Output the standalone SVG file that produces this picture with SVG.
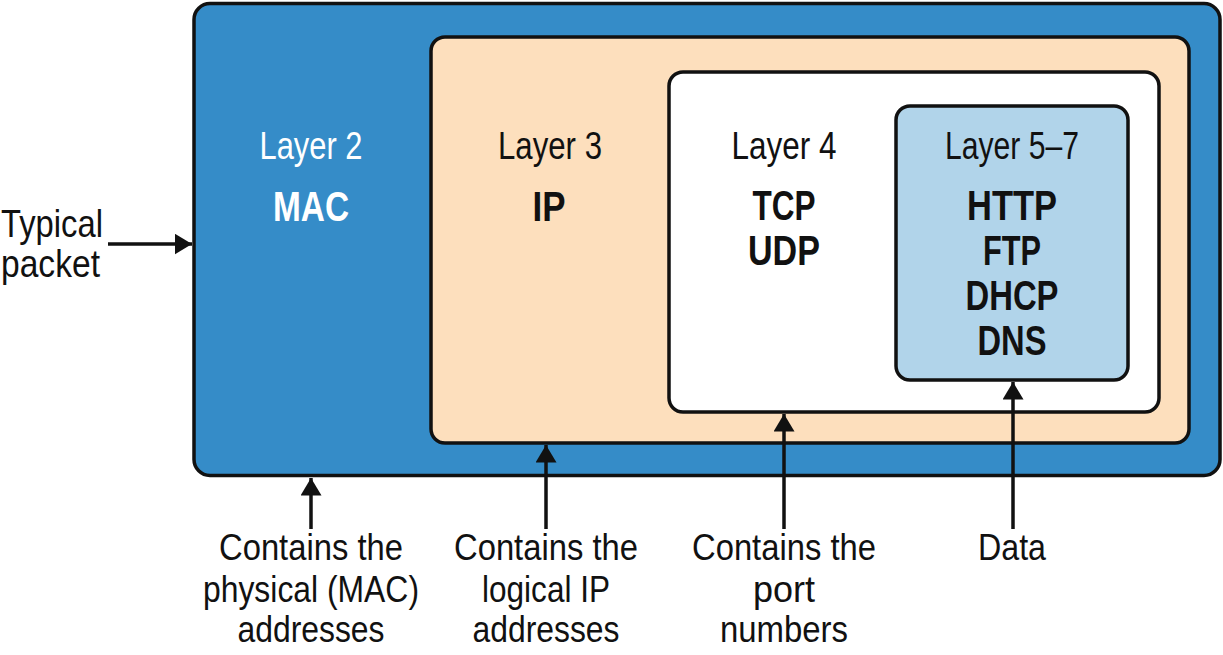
<svg xmlns="http://www.w3.org/2000/svg" width="1223" height="655" viewBox="0 0 1223 655">
<style>
.box{stroke:#111;stroke-width:3.5}
text{font-family:"Liberation Sans","Arial",sans-serif;text-anchor:middle;fill:#111}
.lay{font-size:38px}
.proto{font-size:42px;font-weight:bold}
.lbl{font-size:36px}
.w{fill:#fff}
.conn line{stroke:#111;stroke-width:3.5}
</style>
<defs>
<marker id="ah" markerWidth="6" markerHeight="6" refX="5" refY="3" orient="auto" markerUnits="strokeWidth">
<path d="M0,0 L5,3 L0,6 z" fill="#111"/>
</marker>
</defs>
<g id="layer2">
<rect class="box" x="194" y="3.5" width="1026" height="472" rx="16" fill="#358cc8"/>
<text class="lay w" x="311" y="159" textLength="103" lengthAdjust="spacingAndGlyphs">Layer 2</text>
<text class="proto w" x="311" y="221" textLength="76" lengthAdjust="spacingAndGlyphs">MAC</text>
</g>
<g id="layer3">
<rect class="box" x="431" y="37" width="758" height="406" rx="14" fill="#fddfbd"/>
<text class="lay" x="550" y="159" textLength="104" lengthAdjust="spacingAndGlyphs">Layer 3</text>
<text class="proto" x="549" y="221" textLength="33" lengthAdjust="spacingAndGlyphs">IP</text>
</g>
<g id="layer4">
<rect class="box" x="669" y="72" width="490" height="340" rx="14" fill="#fff"/>
<text class="lay" x="784" y="159" textLength="105" lengthAdjust="spacingAndGlyphs">Layer 4</text>
<text class="proto" x="784" y="220" textLength="63" lengthAdjust="spacingAndGlyphs">TCP</text>
<text class="proto" x="784" y="265" textLength="72" lengthAdjust="spacingAndGlyphs">UDP</text>
</g>
<g id="layer57">
<rect class="box" x="896" y="106" width="232" height="274" rx="14" fill="#b1d4ea"/>
<text class="lay" x="1012" y="159" textLength="134" lengthAdjust="spacingAndGlyphs">Layer 5–7</text>
<text class="proto" x="1012" y="220" textLength="90" lengthAdjust="spacingAndGlyphs">HTTP</text>
<text class="proto" x="1012" y="265" textLength="58" lengthAdjust="spacingAndGlyphs">FTP</text>
<text class="proto" x="1012" y="310" textLength="93" lengthAdjust="spacingAndGlyphs">DHCP</text>
<text class="proto" x="1012" y="355" textLength="69" lengthAdjust="spacingAndGlyphs">DNS</text>
</g>
<g id="typical">
<text class="lbl" x="1" y="237" style="font-size:39px;text-anchor:start" textLength="102" lengthAdjust="spacingAndGlyphs">Typical</text>
<text class="lbl" x="1" y="277" style="font-size:39px;text-anchor:start" textLength="99" lengthAdjust="spacingAndGlyphs">packet</text>
</g>
<g id="label2">
<text class="lbl" x="311" y="560" textLength="184" lengthAdjust="spacingAndGlyphs">Contains the</text>
<text class="lbl" x="311" y="602" textLength="216" lengthAdjust="spacingAndGlyphs">physical (MAC)</text>
<text class="lbl" x="311" y="642" textLength="147" lengthAdjust="spacingAndGlyphs">addresses</text>
</g>
<g id="label3">
<text class="lbl" x="546" y="560" textLength="184" lengthAdjust="spacingAndGlyphs">Contains the</text>
<text class="lbl" x="546" y="602" textLength="128" lengthAdjust="spacingAndGlyphs">logical IP</text>
<text class="lbl" x="546" y="642" textLength="147" lengthAdjust="spacingAndGlyphs">addresses</text>
</g>
<g id="label4">
<text class="lbl" x="784" y="560" textLength="184" lengthAdjust="spacingAndGlyphs">Contains the</text>
<text class="lbl" x="784" y="602" textLength="62" lengthAdjust="spacingAndGlyphs">port</text>
<text class="lbl" x="784" y="642" textLength="128" lengthAdjust="spacingAndGlyphs">numbers</text>
</g>
<g id="label57">
<text class="lbl" x="1012" y="560" textLength="68" lengthAdjust="spacingAndGlyphs">Data</text>
</g>
<g class="conn" id="connectors">
<line x1="108" y1="244" x2="192" y2="244" marker-end="url(#ah)"/>
<line x1="311" y1="529" x2="311" y2="478" marker-end="url(#ah)"/>
<line x1="546" y1="529" x2="546" y2="445" marker-end="url(#ah)"/>
<line x1="784" y1="529" x2="784" y2="414" marker-end="url(#ah)"/>
<line x1="1013" y1="529" x2="1013" y2="382" marker-end="url(#ah)"/>
</g>
</svg>
